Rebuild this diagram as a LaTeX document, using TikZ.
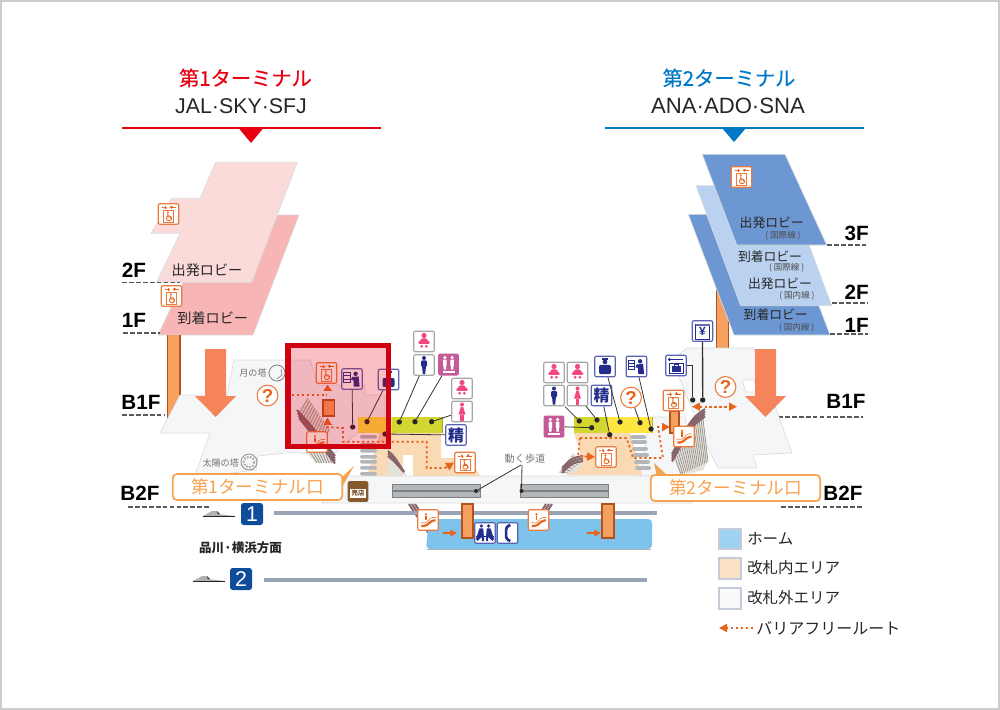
\documentclass[tikz,border=0pt]{standalone}
\usepackage{fontspec}
\setmainfont{Noto Sans CJK JP}
\newfontfamily\latinfont{Liberation Sans}
\newfontfamily\titlefont[FakeBold=0.35]{Noto Sans CJK JP}
\usetikzlibrary{arrows.meta}
\definecolor{termred}{HTML}{E60012}
\definecolor{termblue}{HTML}{0078C8}
\definecolor{floorpale}{HTML}{FADBDA}
\definecolor{floorpink}{HTML}{F7B5B5}
\definecolor{floordark}{HTML}{6C97D2}
\definecolor{floorlight}{HTML}{BAD2EF}
\definecolor{floorgrey}{HTML}{F4F6F8}
\definecolor{edgegrey}{HTML}{D9DCDE}
\definecolor{peach}{HTML}{FAD9B5}
\definecolor{olive}{HTML}{D3D630}
\definecolor{gateyel}{HTML}{FFE53F}
\definecolor{pillar}{HTML}{F5A05E}
\definecolor{pillaredge}{HTML}{B4521F}
\definecolor{downarr}{HTML}{F5845A}
\definecolor{route}{HTML}{E8641B}
\definecolor{signor}{HTML}{F7A24E}
\definecolor{navy}{HTML}{232D8C}
\definecolor{boxblue}{HTML}{5A62B4}
\definecolor{pinkfig}{HTML}{F2487F}
\definecolor{multi}{HTML}{C45A97}
\definecolor{railbr}{HTML}{86646A}
\definecolor{hatchbg}{HTML}{E5E0D8}
\definecolor{stepgrey}{HTML}{B4B7BA}
\definecolor{linegrey}{HTML}{99A4B4}
\definecolor{homeblue}{HTML}{7DC3EC}
\definecolor{badge}{HTML}{0F4C9A}
\definecolor{keyedge}{HTML}{C5CBD8}
\tikzset{
  every node/.style={inner sep=0pt},
  level/.style={font=\latinfont\bfseries\fontsize{15.5pt}{16pt}\selectfont},
  lobby/.style={font=\fontsize{10.6pt}{12pt}\selectfont,text=black!85},
  lobbyb/.style={font=\fontsize{9.6pt}{12pt}\selectfont,text=black!85},
  lobbys/.style={font=\fontsize{6.4pt}{8pt}\selectfont,text=black!70},
  place/.style={font=\fontsize{6.8pt}{8pt}\selectfont,text=black!55},
  legend/.style={font=\fontsize{11.6pt}{14pt}\selectfont,anchor=west,text=black!85},
  dashrule/.style={draw=black!65,line width=1.4pt,dash pattern=on 3.6pt off 1.6pt},
  floor/.style={draw=edgegrey,line width=0.5pt},
  greybox/.style={draw=black!35,line width=0.9pt,rounded corners=1.5pt,fill=white,minimum size=15.5pt},
  bluebox/.style={draw=boxblue,line width=0.9pt,rounded corners=1.5pt,fill=white,minimum size=15.5pt},
  orbox/.style={draw=route!85,line width=0.9pt,rounded corners=1.5pt,fill=white,minimum size=15.5pt},
  multibox/.style={fill=multi,rounded corners=1.5pt,minimum width=15.5pt,minimum height=16.5pt},
  helpring/.style={circle,draw=route!85,line width=0.8pt,fill=white,minimum size=15.6pt,
    text=route,font=\latinfont\bfseries\fontsize{14pt}{14pt}\selectfont},
  signbox/.style={draw=signor,line width=1.3pt,rounded corners=3pt,fill=white,minimum width=127pt,
    minimum height=19.5pt,text=signor,font=\fontsize{13.2pt}{14pt}\selectfont},
  leader/.style={draw=black!80,line width=0.6pt},
  dotend/.style={circle,fill=black!85,minimum size=4pt},
  routeline/.style={draw=route,line width=1.3pt,dash pattern=on 1.7pt off 2pt},
  routetip/.style={routeline,-{Triangle[length=6pt,width=6pt]}},
  routeboth/.style={routeline,{Triangle[length=6pt,width=6pt]}-{Triangle[length=6pt,width=6pt]}},
  pillarbar/.style={fill=pillar,draw=pillaredge,line width=0.8pt},
  rail/.style={draw=railbr,line width=1.5pt},
  hatchline/.style={draw=black!50,line width=0.4pt},
  bluefig/.pic={\fill[navy] (0,-7) circle (2);
    \fill[navy,rounded corners=1pt] (-3,-4.6) rectangle (3,2);
    \fill[navy] (-2,1) -- (2,1) -- (1.2,9) -- (-1.2,9) -- cycle;},
  pinkfig/.pic={\fill[pinkfig] (0,-7) circle (2);
    \fill[pinkfig] (-1.2,-4.6) -- (1.2,-4.6) -- (3.4,3) -- (-3.4,3) -- cycle;
    \fill[pinkfig] (-1.6,3) rectangle (1.6,9);},
  babyfig/.pic={\fill[pinkfig] (0,-6) circle (2.6);
    \fill[pinkfig] (-6,1.4) -- (-2,-3.2) -- (2,-3.2) -- (6,1.4) -- (4.5,2.4) -- (-4.5,2.4) -- cycle;
    \fill[pinkfig] (-2.4,4.8) circle (1.5) (2.4,4.8) circle (1.5);},
  multifig/.pic={\fill[white] (-3.6,-7) circle (1.8) (3.6,-7) circle (1.8);
    \fill[white] (-5.4,-4.8) rectangle (-1.8,1.6) (1.8,-4.8) rectangle (5.4,1.6);
    \fill[white] (-4.8,1.6) rectangle (-2.4,5) (2.4,1.6) rectangle (4.8,5);
    \fill[white] (-6,6.4) rectangle (6,8.6);},
  liftfig/.pic={\draw[route!85,line width=0.6pt] (-5,-3.6) rectangle (5,8);
    \draw[route,line width=0.6pt,-{Latex[length=2pt,width=2.4pt]}] (-3,-5) -- (-3,-8.4);
    \draw[route,line width=0.6pt,-{Latex[length=2pt,width=2.4pt]}] (3,-8.4) -- (3,-5);
    \draw[route,line width=0.5pt] (-7,-6.4) -- (-4.6,-6.4) (1.4,-6.4) -- (7,-6.4);
    \fill[route] (-0.6,-1.8) circle (1);
    \draw[route,line width=0.7pt] (-0.6,-0.6) -- (-0.6,3) -- (2.4,3) -- (3.2,5.6);
    \draw[route,line width=0.6pt] (0.4,4.3) circle (2.5);},
  escafig/.pic={\draw[route,line width=1.6pt,rounded corners=1.5pt] (-6.6,6) -- (-2,6) -- (4,0.4) -- (7.6,0.4);
    \draw[route!80,line width=0.5pt,rounded corners=1pt] (-7.6,2.6) -- (-2,3) -- (3,-2.4) -- (8,-2.6);
    \fill[route] (-2,-5.6) circle (1.2);
    \draw[route,line width=1.2pt] (-2,-4.4) -- (-2,0.4);},
  tickfig/.pic={\draw[navy,line width=0.6pt] (-8.6,-6.6) rectangle (-2,3);
    \draw[navy,line width=0.6pt] (-8.6,-3.2) -- (-2,-3.2) (-8.6,0) -- (-2,0);
    \fill[navy] (3.6,-5.2) circle (2.2);
    \fill[navy] (0,-2) -- (6.6,-2.6) -- (7.6,7.6) -- (1.8,7.6) -- (1.4,1) -- (-1,1) -- cycle;},
  officerfig/.pic={\fill[navy] (-3,-8.2) rectangle (3,-6.4);
    \fill[navy] (0,-4.6) circle (2.4);
    \fill[navy,rounded corners=1.5pt] (-6,-1.6) rectangle (6,7.6);},
  bagfig/.pic={\draw[navy,line width=0.7pt] (-7.6,-6) -- (7,-6);
    \fill[navy] (-6.6,-6) circle (1.6);
    \draw[navy,line width=0.7pt] (-7,7.6) rectangle (7.6,-2.4);
    \fill[navy] (-4.2,0.6) rectangle (4.8,6);
    \draw[navy,line width=0.7pt] (-2,0.6) -- (-2,-1) -- (2.6,-1) -- (2.6,0.6);},
  benchfig/.pic={\fill[navy] (-3.6,-7) circle (1.8) (3.6,-7) circle (1.8);
    \fill[navy] (-5.6,-4.6) -- (-1.8,-4.6) -- (-1,4) -- (-1,8) -- (-3,8) -- (-3.2,4) -- (-7.6,8) -- (-9,6) -- cycle;
    \fill[navy] (5.6,-4.6) -- (1.8,-4.6) -- (1,4) -- (1,8) -- (3,8) -- (3.2,4) -- (7.6,8) -- (9,6) -- cycle;
    \draw[navy,line width=0.7pt] (-9,3) -- (9,3);},
  phonefig/.pic={\draw[navy,line width=2pt,rounded corners=2pt] (2.8,-8) -- (-1.4,-6) -- (-1.4,6) -- (2.8,8);},
  yenfig/.pic={\draw[navy,line width=0.7pt] (-7,-7) rectangle (7,8.6);
    \fill[navy!70] (-7,-7) rectangle (7,-4.8);
    \node[text=navy,font=\latinfont\bfseries\fontsize{9pt}{9pt}\selectfont] (yenmark) at (0,0.6) {¥};},
  trainicon/.pic={\fill[black!30] (0,0) -- (9,-5) -- (14,-5) -- (15,-2) -- (32,0) -- cycle;
    \fill[black!85] (14,-5) -- (17,-2) -- (14.6,-2) -- cycle;
    \fill[black!85] (0,0) rectangle (32,1.4);},
  ringtower/.pic={\draw[black!45,line width=0.6pt] (0,0) circle (8);
    \draw[black!30,line width=1.6pt,dash pattern=on 1.4pt off 1pt] (0,0) circle (5.4);},
  moontower/.pic={\draw[black!50,line width=0.6pt] (0,0) circle (8);
    \draw[black!50,line width=0.5pt] (4,-4) -- (5,2) -- (0,6);},
}
\newcommand{\gatecell}[3]{\fill[#1] (#2,417) rectangle (#3,433);\draw[#1!75!black,line width=0.3pt] (#3,417) -- (#3,433);}
\begin{document}
\begin{tikzpicture}[x=0.75pt,y=-0.75pt]
\useasboundingbox (0,0) rectangle (1000,710);
\draw[black!20,line width=2.6pt] (0,0) rectangle (1000,710);
% terminal headers
\node[text=termred,font=\titlefont\fontsize{15.2pt}{16pt}\selectfont] (t1title) at (245.5,78) {第1ターミナル};
\node[text=black!85,font=\latinfont\fontsize{16pt}{16pt}\selectfont] (t1air) at (241,106) {JAL·SKY·SFJ};
\draw[termred,line width=1.5pt] (122,128.5) -- (381,128.5);
\fill[termred] (239,128.5) -- (263,128.5) -- (251,143) -- cycle;
\node[text=termblue,font=\titlefont\fontsize{15.2pt}{16pt}\selectfont] (t2title) at (729,78) {第2ターミナル};
\node[text=black!85,font=\latinfont\fontsize{16.6pt}{16pt}\selectfont] (t2air) at (728,106) {ANA·ADO·SNA};
\draw[termblue,line width=1.5pt] (605,128) -- (864,128);
\fill[termblue] (722,128) -- (746,128) -- (734,142) -- cycle;
% terminal 1 upper floors
\draw[floor,fill=floorpink] (158,335) -- (215,215) -- (299,215) -- (253,335) -- cycle;
\draw[floor,fill=floorpale] (215.7,162.3) -- (297.3,162.3) -- (251.7,282.3) -- (156.7,282.3) -- (180,233.3) -- (151,233.3) -- (171.7,198.3) -- (200,198.3) -- cycle;
\node[lobby] (t1dep) at (207,270) {出発ロビー};
\node[lobby] (t1arr) at (212.7,318) {到着ロビー};
\fill[pillar] (167.7,335) rectangle (180,428);
\draw[pillarbar] (167.7,335) -- (167.7,428) -- (180,428) -- (180,335);
% terminal 2 upper floors
\draw[pillarbar] (716.7,285) rectangle (728.3,352);
\draw[floor,fill=floordark] (688.3,214.3) -- (784.3,214.3) -- (830,335) -- (734,335) -- cycle;
\draw[floor,fill=floorlight] (696,185.7) -- (787,185.7) -- (831.7,305.7) -- (740.7,305.7) -- cycle;
\draw[floor,fill=floordark] (702.3,154.3) -- (785,154.3) -- (826.7,245) -- (736.7,245) -- cycle;
\node[lobbyb] (t2dep3) at (771.7,223) {出発ロビー};
\node[lobbys] (t2dep3s) at (783,235.7) {( 国際線 )};
\node[lobbyb] (t2arr2) at (770,256.7) {到着ロビー};
\node[lobbys] (t2arr2s) at (786.7,268) {( 国際線 )};
\node[lobbyb] (t2dep2) at (780,284) {出発ロビー};
\node[lobbys] (t2dep2s) at (797,296) {( 国内線 )};
\node[lobbyb] (t2arr1) at (775.7,315) {到着ロビー};
\node[lobbys] (t2arr1s) at (796.7,327.7) {( 国内線 )};
% level labels
\node[level] (lv2fa) at (134,270) {2F};
\node[level] (lv1fa) at (134,320) {1F};
\node[level] (lvb1a) at (141,402) {B1F};
\node[level] (lvb2a) at (140,493) {B2F};
\node[level] (lv3fb) at (856.7,233) {3F};
\node[level] (lv2fb) at (856.7,292) {2F};
\node[level] (lv1fb) at (856.7,325.7) {1F};
\node[level] (lvb1b) at (846,401.7) {B1F};
\node[level] (lvb2b) at (843,493) {B2F};
\draw[dashrule] (122,282.5) -- (180,282.5);
\draw[dashrule] (123,333) -- (160,333);
\draw[dashrule] (122,415) -- (165,415);
\draw[dashrule] (128,507) -- (210,507);
\draw[dashrule] (827,245) -- (868,245);
\draw[dashrule] (832,302.7) -- (868,302.7);
\draw[dashrule] (830,334) -- (868,334);
\draw[dashrule] (778,416.7) -- (863,416.7);
\draw[dashrule] (781,506.7) -- (863,506.7);
% basement floors
\draw[floor,fill=floorgrey] (234,360) -- (310,360) -- (318,385) -- (365,385) -- (365,395) -- (385,395) -- (385,430) -- (360,430) -- (330,458) -- (295,452) -- (258,456) -- (256,470) -- (194,478) -- (210,433) -- (160,433) -- (180,395) -- (227,395) -- cycle;
\draw[floor,fill=floorgrey] (687,348) -- (754,348) -- (792,453) -- (753,455) -- (757,468) -- (718,468) -- (708,448) -- (672,360) -- cycle;
\draw[floor,fill=white] (742,380) -- (754,380) -- (758,392) -- (746,392) -- cycle;
\draw[floor,fill=floorgrey] (650,417) -- (685,417) -- (695,476) -- (640,476) -- cycle;
\fill[peach] (380,432) -- (441,432) -- (441,458) -- (470,458) -- (480,476) -- (367,476) -- (375,450) -- cycle;
\fill[white] (403,455) rectangle (413,476);
\fill[peach] (574,433) -- (630,433) -- (642,475) -- (566,475) -- (582,460) -- (578,445) -- cycle;
\draw[floor,fill=floorgrey] (322,503) -- (345,476) -- (670,476) -- (692,503) -- cycle;
% gates
\gatecell{gateyel}{358}{375}\gatecell{gateyel}{375}{392}
\gatecell{olive}{392}{408}\gatecell{olive}{408}{425}\gatecell{olive}{425}{442}
\gatecell{olive}{574}{589}\gatecell{olive}{589}{608}
\gatecell{gateyel}{608}{633}\gatecell{gateyel}{633}{652}
% steps
\foreach \sy in {437,445,451,457,462,468,474} \fill[stepgrey,rounded corners=1pt] (360,\sy-2) rectangle (377,\sy+1.5);
\foreach \sy/\sx in {437/630,442/631,449/632,455/633,462/634,468/635} \fill[stepgrey,rounded corners=1pt] (\sx,\sy-1.8) rectangle (\sx+16,\sy+1.8);
% escalators, hatched blocks and rails
\fill[hatchbg] (308,398) -- (330,430) -- (322,449) -- (298,415) -- cycle;
\foreach \ht in {0,0.08,...,1} \draw[hatchline] (308+22*\ht,398+32*\ht) -- (298+24*\ht,415+34*\ht);
\fill[hatchbg] (306,452) -- (330,452) -- (333,463) -- (316,463) -- cycle;
\foreach \ht in {0,0.15,...,1} \draw[hatchline] (310+20*\ht,452) -- (317+16*\ht,463);
\foreach \ro in {0,2.5,5,7.5} \draw[rail] (297+\ro*0.3,410+\ro*1.1) .. controls (310,424+\ro) .. (335,456+\ro);
\fill[hatchbg] (388,453) -- (407,475) -- (387,475) -- cycle;
\foreach \ro in {0,2.5,5} \draw[rail] (388,451+\ro) .. controls (394,456+\ro) .. (404,472);
\fill[hatchbg] (702,410) -- (708,460) -- (703,470) -- (680,475) -- (673,457) -- cycle;
\foreach \ht in {0,0.06,...,1} \draw[hatchline] (702-29*\ht,410+47*\ht) -- (708-28*\ht,462+13*\ht);
\foreach \ro in {0,2.5,5,7.5} \draw[rail] (705,409+\ro) .. controls (692,418+\ro) .. (672,454+\ro);
\fill[hatchbg] (558,473) -- (573,453) -- (583,463) -- (575,473) -- cycle;
\foreach \ht in {0,0.2,...,1} \draw[hatchline] (560+12*\ht,472-16*\ht) -- (568+12*\ht,473-10*\ht);
\foreach \ro in {0,2.5,5} \draw[rail] (583,456+\ro) .. controls (572,458+\ro) .. (562,468+\ro);
\foreach \ro in {0,3,6} \draw[rail] (409+\ro,504) .. controls (418+\ro,518) .. (430+\ro,535);
\foreach \ro in {0,3,6} \draw[rail] (546+\ro,504) .. controls (536+\ro,520) .. (526+\ro,534);
% tracks and platform
\draw[linegrey,line width=2.7pt] (274,513) -- (657,513);
\draw[linegrey,line width=2.7pt] (264,580) -- (647,580);
\fill[homeblue,rounded corners=3pt] (429,519) -- (652,519) -- (652,549) -- (426,549) -- cycle;
\draw[black!30,line width=0.8pt] (427,549.5) -- (651,549.5);
\pic at (203,516) {trainicon};
\pic at (193,581) {trainicon};
\node[fill=badge,rounded corners=2pt,minimum size=16.5pt,text=white,font=\latinfont\fontsize{16pt}{16pt}\selectfont] (trk1) at (252,514) {1};
\node[fill=badge,rounded corners=2pt,minimum size=16.5pt,text=white,font=\latinfont\fontsize{16pt}{16pt}\selectfont] (trk2) at (241,579) {2};
\node[font=\bfseries\fontsize{9.4pt}{10pt}\selectfont,text=black!85] (dirn) at (240.5,548) {品川·横浜方面};
\draw[pillarbar] (462,504) rectangle (473,538);
\draw[pillarbar] (602,504) rectangle (614,538);
\coordinate (plf1) at (443,533);
\coordinate (plf1b) at (457,533);
\coordinate (plf2) at (587,533);
\coordinate (plf2b) at (601,533);
\draw[route,line width=0.9pt,-{Triangle[length=5pt,width=5pt]}] (plf1) -- (plf1b);
\draw[route,line width=0.9pt,-{Triangle[length=5pt,width=5pt]}] (plf2) -- (plf2b);
% moving walkways
\foreach \wx in {392,520} {
  \fill[stepgrey,draw=black!50,line width=0.4pt] (\wx,484) rectangle (\wx+88,490);
  \fill[stepgrey,draw=black!50,line width=0.4pt] (\wx,491) rectangle (\wx+88,497);
}
\node[place,font=\fontsize{7.6pt}{8pt}\selectfont] (walk) at (525,459) {動く歩道};
\node[dotend,minimum size=3pt] (walka) at (476,491) {};
\node[dotend,minimum size=3pt] (walkb) at (521.5,491) {};
\draw[leader] (walk.south) ++(-4,1) -- (walka);
\draw[leader] (walk.south) ++(-3,1) -- (walkb);
% pillars and arrows
\draw[pillarbar] (323,400) rectangle (334.5,416);
\draw[pillarbar] (670,411) rectangle (679,433);
\fill[downarr] (205,349) -- (226,349) -- (226,396) -- (236,396) -- (215.7,417) -- (195,396) -- (205,396) -- cycle;
\fill[downarr] (755,349) -- (776,349) -- (776,396) -- (786,396) -- (765.5,417) -- (745,396) -- (755,396) -- cycle;
% signs
\fill[signor] (342,477) -- (354,466) -- (342,487) -- cycle;
\fill[signor] (657,476) -- (654,463) -- (668,476) -- cycle;
\node[signbox] (t1gate) at (257.5,487) {第1ターミナル口};
\node[signbox] (t2gate) at (735.5,488) {第2ターミナル口};
% tower labels
\node[place] (moon) at (253,373) {月の塔};
\pic at (277,373) {moontower};
\node[place] (sun) at (220.7,463) {太陽の塔};
\pic at (249,462) {ringtower};
% icons terminal 1
\node[orbox] (liftat) at (168.5,214) {}; \pic at (liftat) {liftfig};
\node[orbox] (liftab) at (171.5,296) {}; \pic at (liftab) {liftfig};
\node[orbox] (liftac) at (326.5,373) {}; \pic at (liftac) {liftfig};
\node[orbox] (liftad) at (465,462.5) {}; \pic at (liftad) {liftfig};
\node[helpring] (helpa) at (267.5,395.5) {?};
\node[bluebox] (ticka) at (352,379) {}; \pic at (ticka) {tickfig};
\node[bluebox] (offa) at (388.5,379.5) {}; \pic at (offa) {officerfig};
\node[greybox] (babya) at (424,341.5) {}; \pic at (babya) {babyfig};
\node[greybox] (mana) at (424,365) {}; \pic at (mana) {bluefig};
\node[multibox] (mula) at (448.5,364.5) {}; \pic at (mula) {multifig};
\node[greybox] (babyb) at (462,388.5) {}; \pic at (babyb) {babyfig};
\node[greybox] (woma) at (462,411.5) {}; \pic at (woma) {pinkfig};
\node[bluebox,text=navy,font=\bfseries\fontsize{12pt}{12pt}\selectfont] (seia) at (456,435) {精};
\node[orbox] (escaa) at (317,442) {}; \pic at (escaa) {escafig};
\node[fill=brown!70!black,rounded corners=1.5pt,minimum size=15.5pt] (shop) at (358,491.5) {};
\node[fill=white,text=brown!60!black,font=\bfseries\fontsize{4.8pt}{5pt}\selectfont,minimum width=12pt,minimum height=7pt] (shopin) at (358,493.5) {売店};
% icons terminal 2
\node[orbox] (liftbt) at (741.5,177) {}; \pic at (liftbt) {liftfig};
\node[orbox] (liftbb) at (673.5,400.5) {}; \pic at (liftbb) {liftfig};
\node[orbox] (liftbc) at (606,457) {}; \pic at (liftbc) {liftfig};
\node[greybox] (babyc) at (554,372.5) {}; \pic at (babyc) {babyfig};
\node[greybox] (babyd) at (577.5,372.5) {}; \pic at (babyd) {babyfig};
\node[greybox] (manb) at (554,395.5) {}; \pic at (manb) {bluefig};
\node[greybox] (womb) at (577.5,395.5) {}; \pic at (womb) {pinkfig};
\node[multibox] (mulb) at (554,426.5) {}; \pic at (mulb) {multifig};
\node[bluebox,text=navy,font=\bfseries\fontsize{12pt}{12pt}\selectfont] (seib) at (601.5,395.5) {精};
\node[bluebox] (offb) at (605,366.5) {}; \pic at (offb) {officerfig};
\node[helpring] (helpb) at (631,397.5) {?};
\node[bluebox] (tickb) at (636.5,366.5) {}; \pic at (tickb) {tickfig};
\node[bluebox] (bagb) at (676,365.5) {}; \pic at (bagb) {bagfig};
\node[bluebox] (yenb) at (702.5,331) {}; \pic at (yenb) {yenfig};
\node[helpring] (helpc) at (725.5,387) {?};
\node[orbox] (escab) at (684,436.5) {}; \pic at (escab) {escafig};
% icons platform
\node[orbox] (escac) at (428,520) {}; \pic at (escac) {escafig};
\node[orbox] (escad) at (538.5,520) {}; \pic at (escad) {escafig};
\node[bluebox] (bench) at (485,533) {}; \pic at (bench) {benchfig};
\node[bluebox] (phone) at (507.5,533) {}; \pic at (phone) {phonefig};
% leader lines
\node[dotend] (dota) at (352.7,427) {};
\node[dotend] (dotb) at (367,421.7) {};
\node[dotend] (dotc) at (399.3,422) {};
\node[dotend] (dotd) at (415,421.7) {};
\node[dotend] (dote) at (431.7,421.7) {};
\node[dotend] (dotf) at (385,434) {};
\draw[leader] (ticka) -- (dota);
\draw[leader] (offa) -- (dotb);
\draw[leader] (mana) -- (dotc);
\draw[leader] (mula) -- (dotd);
\draw[leader] (woma) -- (dote);
\draw[leader] (seia) -- (dotf);
\node[dotend] (dotg) at (579.3,421) {};
\node[dotend] (doth) at (597,420) {};
\node[dotend] (doti) at (591.7,427.7) {};
\node[dotend] (dotj) at (609.7,434.7) {};
\node[dotend] (dotk) at (620,422) {};
\node[dotend] (dotl) at (640,422.7) {};
\node[dotend] (dotm) at (651,429) {};
\node[dotend] (dotn) at (692.7,400) {};
\node[dotend] (doto) at (702.7,400) {};
\draw[leader] (manb) -- (dotg);
\draw[leader] (womb) -- (doth);
\draw[leader] (mulb) -- (doti);
\draw[leader] (seib) -- (dotj);
\draw[leader] (offb) -- (dotk);
\draw[leader] (helpb) -- (dotl);
\draw[leader] (tickb) -- (dotm);
\draw[leader,line width=1pt] (bagb.east) -- (692.7,365.5) -- (dotn);
\draw[leader,line width=1pt] (yenb) -- (doto);
% barrier free routes
\coordinate (rta) at (287,395);
\coordinate (rtb) at (327,395);
\coordinate (rtc) at (326.5,427);
\coordinate (rtd) at (343,428);
\coordinate (rte) at (343,441.7);
\coordinate (rtf) at (426.7,441.7);
\coordinate (rtg) at (426.7,468);
\draw[routeline] (rta) -- (rtb);
\draw[route,line width=0pt,fill=route] (324,390) -- (327.5,385) -- (331,390) -- cycle;
\draw[route,line width=0pt,fill=route] (324,424) -- (327.5,418) -- (331,424) -- cycle;
\draw[routeline] (rtc) -- (rtd) -- (rte) -- (rtf) -- (rtg) -- (445,468);
\draw[routetip] (445,468) -- (liftad.west);
\coordinate (rtp) at (580,438);
\coordinate (rtq) at (626.7,438);
\coordinate (rtr) at (633,458);
\coordinate (rts) at (663,458);
\coordinate (rtt) at (658,427);
\coordinate (rtu) at (670,427);
\draw[routetip] (rtp) -- (578,456) -- (liftbc.west);
\draw[routetip] (rtp) -- (rtq) -- (rtr) -- (rts) -- (rtt) -- (rtu);
\coordinate (rtv) at (692,406.7);
\coordinate (rtw) at (737,406.7);
\draw[routeboth] (rtv) -- (rtw);
% legend
\draw[keyedge,line width=0.8pt,fill=homeblue!75] (719,529) rectangle (741,549);
\draw[keyedge,line width=0.8pt,fill=peach!80] (719,558) rectangle (741,579);
\draw[keyedge,line width=0.8pt,fill=floorgrey!60] (719,588) rectangle (741,609);
\node[legend] (keyhome) at (747,539) {ホーム};
\node[legend] (keyin) at (747,568) {改札内エリア};
\node[legend] (keyout) at (747,598) {改札外エリア};
\node[legend,font=\fontsize{12pt}{14pt}\selectfont] (keyroute) at (756,628) {バリアフリールート};
\coordinate (keyfree) at (719,628);
\draw[routetip] (keyroute.west) ++(-3,0) -- (keyfree);
% highlight frame
\draw[termred!90!black,line width=3.8pt,fill=termred,fill opacity=0.25,draw opacity=1] (288,345.5) rectangle (388.5,446.5);
\end{tikzpicture}
\end{document}
